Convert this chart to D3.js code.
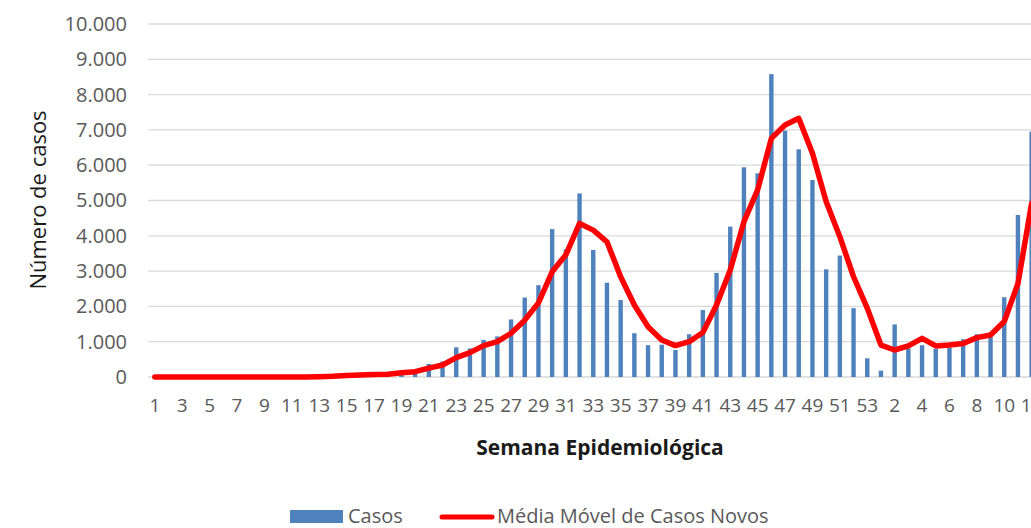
<!DOCTYPE html>
<html lang="pt">
<head>
<meta charset="UTF-8">
<title>Casos por semana epidemiológica</title>
<script src="https://cdn.jsdelivr.net/npm/d3@7"></script>
<style>
  body { margin: 0; background: #fff; }
  svg { display: block; font-family: "Open Sans", sans-serif; }
</style>
</head>
<body>
<svg id="chart" width="1031" height="528"></svg>
<script>
// semanas epidemiológicas (2020: 1-53, 2021: 1-12)
var semanas = [1,2,3,4,5,6,7,8,9,10,11,12,13,14,15,16,17,18,19,20,21,22,23,24,25,26,27,28,29,30,
  31,32,33,34,35,36,37,38,39,40,41,42,43,44,45,46,47,48,49,50,51,52,53,
  1,2,3,4,5,6,7,8,9,10,11,12];
var casos = [0,0,0,0,0,0,0,0,0,0,0,0,10,20,50,60,70,80,90,110,370,440,840,810,1050,1150,1630,2250,2600,4190,
  3620,5200,3600,2670,2180,1240,900,915,765,1210,1900,2950,4260,5940,5770,8580,6980,6450,5580,3050,3440,1950,530,
  180,1490,810,900,800,830,1070,1210,1130,2260,4590,6950];
var mediaMovel = [0,0,0,0,0,0,0,0,0,0,0,0,10,20,45,60,70,75,120,150,250,340,550,690,890,1000,1240,1610,2100,2980,
  3460,4350,4160,3830,2840,2040,1425,1050,890,1000,1260,2040,3030,4400,5300,6760,7140,7330,6340,4970,3975,2840,1950,
  905,765,880,1095,880,905,950,1115,1190,1570,2650,4920];
var yTicks = [0,1000,2000,3000,4000,5000,6000,7000,8000,9000,10000];

var svg = d3.select("#chart");
var plotLeft = 148, plotTop = 24, plotBottom = 377;
var step = 13.7;

var keys = semanas.map(function(d, i) { return i; });
var x = d3.scaleBand().domain(keys).range([plotLeft, plotLeft + step * keys.length]).padding(0);
var y = d3.scaleLinear().domain([0, 10000]).range([plotBottom, plotTop]);
var pt = d3.formatLocale({decimal: ",", thousands: ".", grouping: [3], currency: ["R$", ""]});
var fmt = pt.format(",d");

// grade
svg.append("g").selectAll("line").data(yTicks).enter().append("line")
  .attr("x1", plotLeft).attr("x2", 1031)
  .attr("y1", function(d) { return y(d); }).attr("y2", function(d) { return y(d); })
  .attr("stroke", "#d9d9d9").attr("stroke-width", 1.3);

// eixo y (só os textos)
var yAxis = svg.append("g").attr("transform", "translate(" + (plotLeft - 21) + ",0)")
  .call(d3.axisLeft(y).tickValues(yTicks).tickFormat(fmt).tickSize(0).tickPadding(0));
yAxis.select(".domain").remove();
yAxis.selectAll("text").attr("fill", "#595959").style("font-size", "20px")
  .style("font-family", "Open Sans");

// eixo x
var xAxis = svg.append("g").attr("transform", "translate(0," + plotBottom + ")")
  .call(d3.axisBottom(x).tickValues(keys.filter(function(d) { return d % 2 === 0; }))
    .tickFormat(function(d) { return semanas[d]; }).tickSize(0).tickPadding(22));
xAxis.select(".domain").remove();
xAxis.selectAll("text").attr("fill", "#595959").style("font-size", "19px")
  .style("font-family", "Open Sans");

// barras
var bw = 4.4;
svg.append("g").selectAll("rect").data(casos).enter().append("rect")
  .attr("x", function(d, i) { return x(i) + x.bandwidth() / 2 - bw / 2; })
  .attr("y", function(d) { return y(d); })
  .attr("width", bw)
  .attr("height", function(d) { return plotBottom - y(d); })
  .attr("fill", "#4f81bd");

// média móvel
var line = d3.line()
  .x(function(d, i) { return x(i) + x.bandwidth() / 2; })
  .y(function(d) { return y(d); });
svg.append("path").datum(mediaMovel)
  .attr("d", line)
  .attr("fill", "none").attr("stroke", "#ff0000").attr("stroke-width", 5.5)
  .attr("stroke-linejoin", "round").attr("stroke-linecap", "round");

// títulos
svg.append("text").attr("transform", "translate(46,200) rotate(-90)")
  .attr("text-anchor", "middle").style("font-size", "22px").attr("fill", "#1a1a1a")
  .text("Número de casos");
svg.append("text").attr("x", 600).attr("y", 455)
  .attr("text-anchor", "middle").style("font-size", "21px").style("font-weight", "bold")
  .attr("fill", "#1a1a1a").text("Semana Epidemiológica");

// legenda
var leg = svg.append("g");
leg.append("rect").attr("x", 290).attr("y", 510).attr("width", 53).attr("height", 13).attr("fill", "#4f81bd");
leg.append("text").attr("x", 348).attr("y", 523).style("font-size", "20px").attr("fill", "#595959").text("Casos");
leg.append("line").attr("x1", 442).attr("x2", 492).attr("y1", 517).attr("y2", 517)
  .attr("stroke", "#ff0000").attr("stroke-width", 5).attr("stroke-linecap", "round");
leg.append("text").attr("x", 497).attr("y", 523).style("font-size", "20px").attr("fill", "#595959")
  .text("Média Móvel de Casos Novos");
</script>
</body>
</html>
